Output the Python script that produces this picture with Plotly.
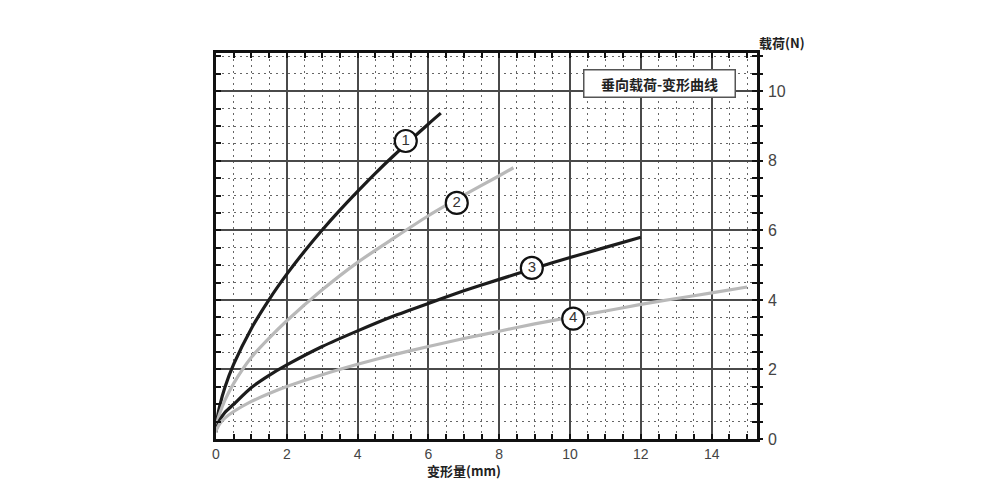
import plotly.graph_objects as go

# ---- data ----
x1 = [0, 0.02, 0.05, 0.1, 0.25, 0.5, 1, 1.5, 2, 2.5, 3, 3.5, 4, 4.5, 5, 5.5, 6, 6.35]
y1 = [0.2, 0.48, 0.68, 0.93, 1.48, 2.15, 3.18, 4.01, 4.74, 5.40, 6.01, 6.58, 7.12, 7.64, 8.13, 8.60, 9.06, 9.37]

x2 = [0, 0.02, 0.05, 0.1, 0.25, 0.5, 1, 1.5, 2, 3, 4, 5, 6, 7, 8, 8.4]
y2 = [0.2, 0.4, 0.55, 0.72, 1.11, 1.6, 2.35, 2.9, 3.4, 4.29, 5.08, 5.76, 6.42, 7.01, 7.57, 7.8]

x3 = [0, 0.02, 0.05, 0.1, 0.25, 0.5, 1, 1.5, 2, 3, 4, 5, 6, 7, 8, 9, 10, 11, 12]
y3 = [0.2, 0.32, 0.4, 0.53, 0.76, 1.0, 1.48, 1.83, 2.13, 2.66, 3.11, 3.53, 3.90, 4.26, 4.59, 4.91, 5.22, 5.51, 5.80]

x4 = [0, 0.02, 0.05, 0.1, 0.25, 0.5, 1, 1.5, 2, 3, 4, 5, 6, 7, 8, 9, 10, 11, 12, 13, 14, 15]
y4 = [0.2, 0.28, 0.34, 0.43, 0.60, 0.79, 1.08, 1.31, 1.51, 1.85, 2.15, 2.42, 2.66, 2.89, 3.10, 3.31, 3.50, 3.68, 3.87, 4.04, 4.20, 4.37]

label_text = ["1", "2", "3", "4"]
label_x = [5.36, 6.8, 8.92, 10.09]
label_y = [8.57, 6.79, 4.92, 3.46]

x_ticks = [0, 2, 4, 6, 8, 10, 12, 14]
y_ticks = [0, 2, 4, 6, 8, 10]

title_text = "垂向载荷-变形曲线"
x_title = "变形量(mm)"
y_title = "载荷(N)"

# ---- styling ----
DARK = "#1c1c1c"
LIGHT = "#b9b9b9"
CJK = "Noto Sans CJK SC"
NUM = "Liberation Sans, Arial, sans-serif"

fig = go.Figure()
for xs, ys, col in [(x1, y1, DARK), (x2, y2, LIGHT), (x3, y3, DARK), (x4, y4, LIGHT)]:
    fig.add_trace(go.Scatter(x=xs, y=ys, mode="lines",
                             line=dict(color=col, width=3.2, shape="spline", smoothing=0.6),
                             hoverinfo="skip", showlegend=False))

fig.add_trace(go.Scatter(
    x=label_x, y=label_y, mode="markers+text", text=label_text,
    textposition="middle center",
    textfont=dict(family=NUM, size=15, color="#333333"),
    marker=dict(size=22, color="white", line=dict(color="#111111", width=2.2)),
    hoverinfo="skip", showlegend=False, cliponaxis=False))

# helper trace for the outward-tick overlay axis
fig.add_trace(go.Scatter(x=[None], y=[None], yaxis="y2", showlegend=False, hoverinfo="skip"))

grid_minor = dict(dtick=0.5, ticks="inside", ticklen=5, tickcolor="#111111", tickwidth=1.5,
                  showgrid=True, gridcolor="#666666", gridwidth=1.2, griddash="1.5px,4.5px")

fig.update_layout(
    width=1000, height=480,
    margin=dict(l=216, r=243, t=53, b=41),
    paper_bgcolor="white", plot_bgcolor="white",
    showlegend=False,
    xaxis=dict(range=[0, 15.28], tickvals=x_ticks, ticktext=[str(v) for v in x_ticks],
               ticks="inside", ticklen=5, tickwidth=1.5, tickcolor="#111111",
               showline=True, linecolor="#111111", linewidth=2.5, mirror="ticks",
               showgrid=True, gridcolor="#4a4a4a", gridwidth=1.5,
               zeroline=False, minor=grid_minor, ticklabelstandoff=0,
               tickfont=dict(family=NUM, size=14, color="#444444")),
    yaxis=dict(range=[0, 11.1], side="right", tickvals=y_ticks, ticktext=[str(v) for v in y_ticks],
               ticks="inside", ticklen=5, tickwidth=1.5, tickcolor="#111111",
               showline=True, linecolor="#111111", linewidth=2.5, mirror="ticks",
               showgrid=True, gridcolor="#4a4a4a", gridwidth=1.5,
               zeroline=False, minor=grid_minor, ticklabelstandoff=5,
               tickfont=dict(family=NUM, size=16, color="#444444")),
    yaxis2=dict(range=[0, 11.1], overlaying="y", side="right", showticklabels=False,
                tickvals=y_ticks, ticks="outside", ticklen=5, tickwidth=1.5, tickcolor="#111111",
                showgrid=False, zeroline=False, showline=False,
                minor=dict(dtick=0.5, ticks="outside", ticklen=5, tickwidth=1.5,
                           tickcolor="#111111", showgrid=False)),
)

fig.add_annotation(text=title_text, xref="paper", yref="paper", x=0.819, y=0.92,
                   xanchor="center", yanchor="middle", showarrow=False,
                   width=148, height=24, bgcolor="white", bordercolor="#555555",
                   borderwidth=1.5, borderpad=1,
                   font=dict(family=CJK, size=14, color="#222222", weight="bold"))
fig.add_annotation(text=x_title, xref="paper", yref="paper", x=0.459, y=-0.082,
                   xanchor="center", yanchor="middle", showarrow=False,
                   font=dict(family=CJK, size=13, color="#222222", weight="bold"))
fig.add_annotation(text=y_title, xref="paper", yref="paper", x=1.0, y=1.028,
                   xanchor="left", yanchor="middle", showarrow=False,
                   font=dict(family=CJK, size=13, color="#222222", weight="bold"))

fig.write_html("out.html", config={"displayModeBar": False},
               post_script="document.body.style.margin='0';")
